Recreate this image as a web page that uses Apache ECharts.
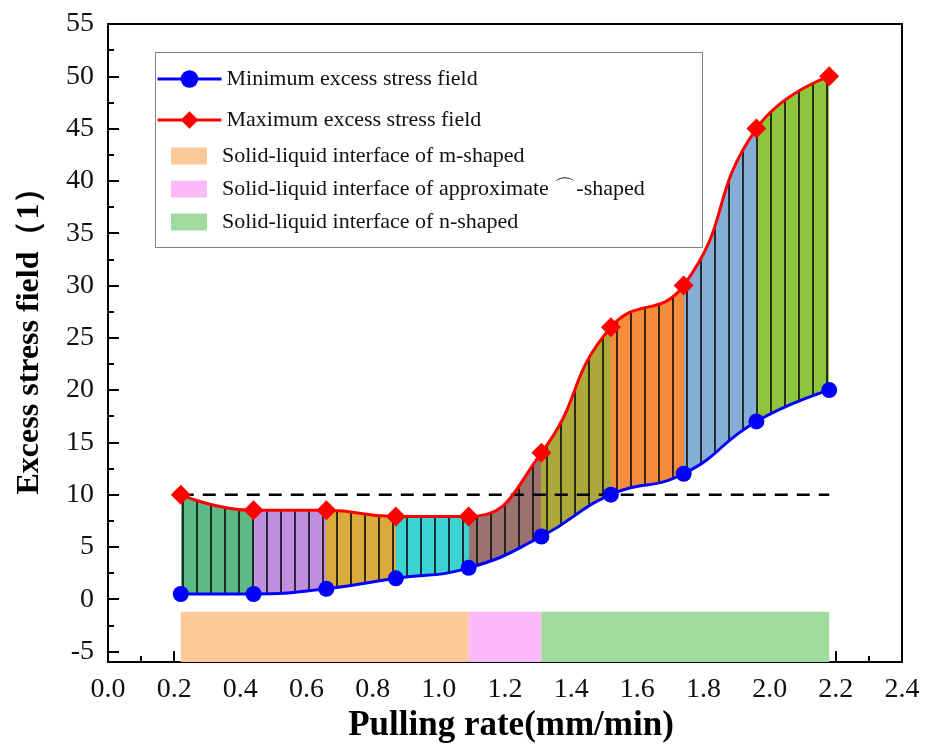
<!DOCTYPE html>
<html>
<head>
<meta charset="utf-8">
<script src="https://cdn.jsdelivr.net/npm/echarts@6/dist/echarts.min.js"></script>
<style>
    html, body { margin: 0; padding: 0; background: #fff; }
    #chart { width: 936px; height: 752px; }
</style>
</head>
<body>
<div id="chart"></div>
<script>
// 数据
var pullingRate = [0.22, 0.44, 0.66, 0.87, 1.09, 1.31, 1.52, 1.74, 1.96, 2.18];
var minStress = [0.5, 0.5, 1, 2, 3, 6, 10, 12, 17, 20];
var maxStress = [10, 8.5, 8.5, 7.9, 7.9, 14, 26, 30, 45, 50];
var segmentColors = ['#5cb985', '#c18fe0', '#d8ab3a', '#3cd3d3', '#9b726e',
    '#aca83a', '#f68b3a', '#86add5', '#8ec53d'];
var thresholdValue = 10;
var interfaceNames = [
    'Solid-liquid interface of m-shaped',
    'Solid-liquid interface of approximate ⌒-shaped',
    'Solid-liquid interface of n-shaped'
];
var interfaceRanges = [[0.22, 1.09], [1.09, 1.31], [1.31, 2.18]];
var interfaceColors = ['#fdc998', '#fcb9f8', '#a0da9f'];
var bandTop = -1.2;
var yTickValues = [-5, 0, 5, 10, 15, 20, 25, 30, 35, 40, 45, 50, 55];
var yMinorTickValues = [-2.5, 2.5, 7.5, 12.5, 17.5, 22.5, 27.5, 32.5, 37.5, 42.5, 47.5, 52.5];

(function () {
    var myChart = echarts.init(document.getElementById('chart'));
    var serif = 'Liberation Serif';

    var minData = pullingRate.map(function (x, i) { return [x, minStress[i]]; });
    var maxData = pullingRate.map(function (x, i) { return [x, maxStress[i]]; });

    // 每段一个颜色
    var pieces = segmentColors.map(function (c, i) {
        var p = { gte: pullingRate[i], color: c };
        if (i < segmentColors.length - 1) p.lt = pullingRate[i + 1];
        else p.lte = pullingRate[i + 1];
        return p;
    });

    // 竖线填充
    var hatch = {
        symbol: 'rect',
        symbolSize: 1,
        symbolKeepAspect: false,
        color: 'rgba(20,20,20,0.85)',
        dashArrayX: [1.3, 11.1],
        dashArrayY: [4, 0],
        rotation: 0
    };

    var series = [
        {
            // max 曲线下方填色 + 竖线
            name: 'maxFill',
            type: 'line',
            data: maxData,
            smooth: true,
            symbol: 'none',
            lineStyle: { width: 0, opacity: 0 },
            itemStyle: { decal: hatch },
            areaStyle: { opacity: 1, origin: 0 },
            silent: true
        },
        {
            // min 曲线下方白色遮盖
            name: 'minMask',
            type: 'line',
            data: minData,
            smooth: true,
            symbol: 'none',
            lineStyle: { width: 0, opacity: 0 },
            itemStyle: { color: '#fff' },
            areaStyle: { color: '#fff', opacity: 1, origin: -0.6 },
            silent: true
        },
        {
            name: 'threshold',
            type: 'line',
            data: [[pullingRate[0], thresholdValue], [pullingRate[pullingRate.length - 1], thresholdValue]],
            symbol: 'none',
            lineStyle: { color: '#000', width: 2.5, type: [13, 9] },
            silent: true
        },
        {
            name: 'Minimum excess stress field',
            type: 'line',
            data: minData,
            smooth: true,
            symbol: 'circle',
            symbolSize: 16,
            itemStyle: { color: '#0000ff' },
            lineStyle: { color: '#0000ff', width: 3 }
        },
        {
            name: 'Maximum excess stress field',
            type: 'line',
            data: maxData,
            smooth: true,
            symbol: 'diamond',
            symbolSize: 20,
            itemStyle: { color: '#ff0000' },
            lineStyle: { color: '#ff0000', width: 3 }
        }
    ];

    // 底部界面形状色带
    interfaceNames.forEach(function (name, i) {
        series.push({
            name: name,
            type: 'line',
            data: [],
            itemStyle: { color: interfaceColors[i] },
            lineStyle: { color: interfaceColors[i] },
            markArea: {
                silent: true,
                itemStyle: { color: interfaceColors[i], opacity: 1 },
                data: [[{ xAxis: interfaceRanges[i][0], yAxis: bandTop }, { xAxis: interfaceRanges[i][1], yAxis: -6 }]]
            }
        });
    });

    var option = {
        animation: false,
        grid: {
            left: 108,
            right: 34,
            top: 24,
            bottom: 90,
            show: true,
            borderColor: '#000',
            borderWidth: 2
        },
        visualMap: {
            show: false,
            type: 'piecewise',
            dimension: 0,
            seriesIndex: 0,
            pieces: pieces
        },
        legend: [
            {
                data: ['Minimum excess stress field', 'Maximum excess stress field'],
                orient: 'vertical',
                left: 151,
                top: 63,
                itemWidth: 64,
                itemHeight: 22,
                itemGap: 19,
                selectedMode: false,
                lineStyle: { width: 3 },
                textStyle: { fontFamily: serif, fontSize: 22, color: '#111' }
            },
            {
                data: interfaceNames.map(function (n) { return { name: n, icon: 'rect' }; }),
                orient: 'vertical',
                left: 166,
                top: 140,
                itemWidth: 36,
                itemHeight: 17,
                itemGap: 11,
                selectedMode: false,
                textStyle: { fontFamily: serif, fontSize: 22, color: '#111', padding: [0, 0, 0, 10] }
            }
        ],
        graphic: [
            {
                type: 'rect',
                left: 153,
                top: 50,
                shape: { width: 547, height: 195 },
                style: { fill: 'none', stroke: '#808080', lineWidth: 1 }
            }
        ],
        xAxis: {
            type: 'value',
            min: 0,
            max: 2.4,
            interval: 0.2,
            name: 'Pulling rate(mm/min)',
            nameLocation: 'middle',
            nameGap: 42,
            nameTextStyle: { fontFamily: serif, fontSize: 35, fontWeight: 'bold', color: '#000', padding: [0, 0, 0, 12] },
            axisLine: { onZero: false, lineStyle: { color: '#000', width: 2 } },
            axisTick: { inside: true, length: 11, lineStyle: { color: '#000', width: 2 } },
            minorTick: { show: true, splitNumber: 2, length: 6, lineStyle: { color: '#000', width: 2 } },
            axisLabel: {
                fontFamily: serif,
                fontSize: 28,
                color: '#111',
                margin: 14,
                formatter: function (v) { return v.toFixed(1); }
            },
            splitLine: { show: false }
        },
        yAxis: [
            {
                type: 'value',
                min: -6,
                max: 55,
                name: 'Excess stress field（1）',
                nameLocation: 'middle',
                nameGap: 62,
                nameTextStyle: { fontFamily: serif, fontSize: 32, fontWeight: 'bold', color: '#000', padding: [0, 0, 0, 20] },
                axisLine: { show: true, onZero: false, lineStyle: { color: '#000', width: 2 } },
                axisTick: { inside: true, length: 11, customValues: yTickValues, lineStyle: { color: '#000', width: 2 } },
                axisLabel: { fontFamily: serif, fontSize: 28, color: '#111', margin: 14, customValues: yTickValues },
                splitLine: { show: false }
            },
            {
                type: 'value',
                min: -6,
                max: 55,
                position: 'left',
                axisLine: { show: false, onZero: false },
                axisTick: { show: true, inside: true, length: 6, customValues: yMinorTickValues, lineStyle: { color: '#000', width: 2 } },
                axisLabel: { show: false },
                splitLine: { show: false }
            }
        ],
        series: series
    };
    myChart.setOption(option);
    window.addEventListener('resize', function () {
        myChart.resize();
    });
})();
</script>
</body>
</html>
